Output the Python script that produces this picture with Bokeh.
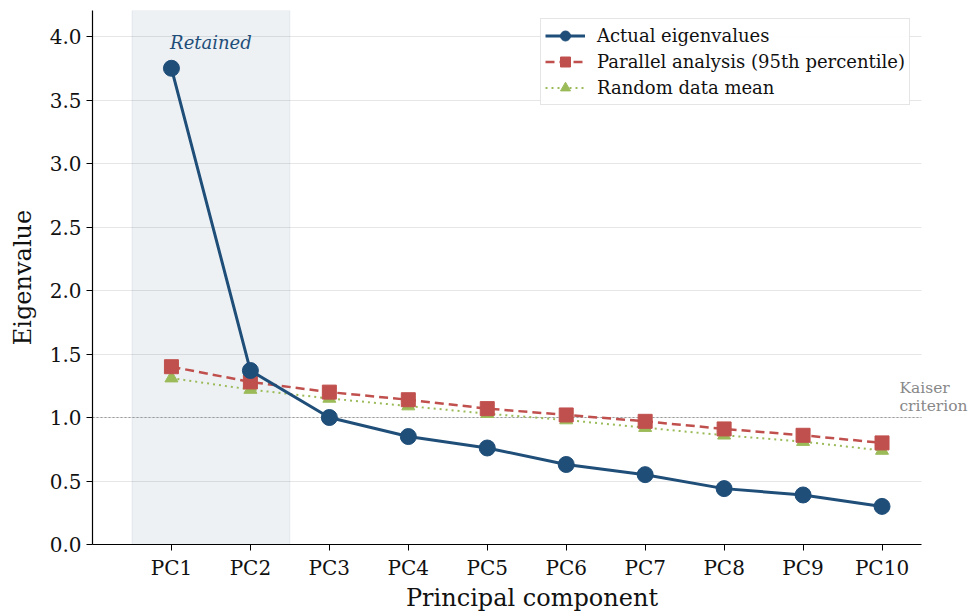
from bokeh.plotting import figure
from bokeh.models import ColumnDataSource, BoxAnnotation, Label, Legend, LegendItem, FixedTicker, Range1d, Grid
from bokeh.embed import file_html
from bokeh.resources import INLINE

components = ["PC1", "PC2", "PC3", "PC4", "PC5", "PC6", "PC7", "PC8", "PC9", "PC10"]
positions = [1, 2, 3, 4, 5, 6, 7, 8, 9, 10]
actual = [3.75, 1.37, 1.00, 0.85, 0.76, 0.63, 0.55, 0.44, 0.39, 0.30]
parallel95 = [1.40, 1.28, 1.20, 1.14, 1.07, 1.02, 0.97, 0.91, 0.86, 0.80]
random_mean = [1.31, 1.22, 1.15, 1.09, 1.03, 0.98, 0.92, 0.86, 0.81, 0.74]
y_ticks = [0.0, 0.5, 1.0, 1.5, 2.0, 2.5, 3.0, 3.5, 4.0]
kaiser = 1.0
retained_from, retained_to = 0.5, 2.5

FONT = "DejaVu Serif"
BLUE = "#1f4e79"
RED = "#c0504d"
GREEN = "#9bbb59"

# axis extents (data) and frame geometry
X_MIN, X_MAX, Y_MIN, Y_MAX = 0.0, 10.5, 0.0, 4.205
FRAME_LEFT, AXIS_RIGHT, W, H = 92, 921, 971, 614
x_end_ext = X_MIN + (X_MAX - X_MIN) * (W - FRAME_LEFT) / (AXIS_RIGHT - FRAME_LEFT)

src = ColumnDataSource(dict(x=positions, actual=actual, par=parallel95, rnd=random_mean))

p = figure(width=W, height=H, output_backend="svg", toolbar_location=None,
           x_range=Range1d(X_MIN, x_end_ext), y_range=Range1d(Y_MIN, Y_MAX))
p.min_border_left = FRAME_LEFT
p.min_border_right = 0
p.min_border_top = 10
p.min_border_bottom = 70
p.outline_line_color = None
p.background_fill_color = "white"

# grid lines limited to the axis extent
p.xgrid.grid_line_color = None
if "cross_bounds" in Grid.properties():
    p.ygrid.cross_bounds = (X_MIN, X_MAX)
    p.ygrid.grid_line_color = "#e6e6e6"
    p.ygrid.ticker = FixedTicker(ticks=y_ticks)
else:
    p.ygrid.grid_line_color = None
    p.segment(x0=[X_MIN] * len(y_ticks), x1=[X_MAX] * len(y_ticks), y0=y_ticks, y1=y_ticks,
              line_color="#e6e6e6", line_width=1, level="underlay")

# retained band
p.add_layout(BoxAnnotation(left=retained_from, right=retained_to, fill_color=BLUE, fill_alpha=0.08,
                           line_color=BLUE, line_alpha=0.08, level="underlay"))
# Kaiser line
p.segment(x0=[X_MIN], x1=[X_MAX], y0=[kaiser], y1=[kaiser], line_color="#999999", line_width=1,
          line_dash="2 2")

r_rnd_l = p.line("x", "rnd", source=src, line_color=GREEN, line_width=2, line_dash="2 4")
r_rnd_m = p.scatter("x", "rnd", source=src, marker="triangle", size=13, fill_color=GREEN, line_color=GREEN)
r_par_l = p.line("x", "par", source=src, line_color=RED, line_width=2.5, line_dash="9 5")
r_par_m = p.scatter("x", "par", source=src, marker="square", size=14, fill_color=RED, line_color=RED)
r_act_l = p.line("x", "actual", source=src, line_color=BLUE, line_width=3)
r_act_m = p.scatter("x", "actual", source=src, marker="circle", size=16, fill_color=BLUE, line_color=BLUE)

p.add_layout(Label(x=(retained_from + retained_to) / 2, y=3.87, text="Retained", text_font=FONT,
                   text_font_style="italic", text_font_size="18px", text_color=BLUE,
                   text_align="center", text_baseline="bottom"))
p.add_layout(Label(x=10.22, y=1.236, text="Kaiser", text_font=FONT, text_font_size="15.5px",
                   text_color="#888888", text_align="left", text_baseline="middle"))
p.add_layout(Label(x=10.22, y=1.094, text="criterion", text_font=FONT, text_font_size="15.5px",
                   text_color="#888888", text_align="left", text_baseline="middle"))

# axes
p.xaxis.ticker = FixedTicker(ticks=positions)
p.xaxis.major_label_overrides = {pos: lab for pos, lab in zip(positions, components)}
p.xaxis.bounds = (X_MIN, X_MAX)
p.yaxis.ticker = FixedTicker(ticks=y_ticks)
p.yaxis.major_label_overrides = {v: f"{v:.1f}" for v in y_ticks}
for ax in (p.xaxis, p.yaxis):
    ax.major_label_text_font = FONT
    ax.major_label_text_font_size = "20px"
    ax.major_label_text_color = "#111111"
    ax.axis_label_text_font = FONT
    ax.axis_label_text_font_size = "24px"
    ax.axis_label_text_font_style = "normal"
    ax.axis_label_text_color = "#111111"
    ax.axis_line_color = "black"
    ax.axis_line_width = 1.2
    ax.major_tick_line_color = "black"
    ax.major_tick_out = 6
    ax.major_tick_in = 0
    ax.minor_tick_line_color = None
p.xaxis.axis_label = "Principal component"
p.yaxis.axis_label = "Eigenvalue"
p.xaxis.axis_label_standoff = 1
p.yaxis.axis_label_standoff = 10

legend = Legend(items=[
    LegendItem(label="Actual eigenvalues", renderers=[r_act_l, r_act_m]),
    LegendItem(label="Parallel analysis (95th percentile)", renderers=[r_par_l, r_par_m]),
    LegendItem(label="Random data mean", renderers=[r_rnd_l, r_rnd_m]),
], location=(448, 439))
legend.label_text_font = FONT
legend.label_text_font_size = "18px"
legend.label_text_color = "#111111"
legend.glyph_width = 40
legend.glyph_height = 25
legend.label_height = 25
legend.label_standoff = 12
legend.spacing = 1
legend.padding = 4
legend.margin = 0
legend.border_line_color = "#cccccc"
legend.border_line_width = 1
legend.background_fill_alpha = 0.9
p.add_layout(legend)

open("out.html", "w").write(file_html(p, INLINE))
